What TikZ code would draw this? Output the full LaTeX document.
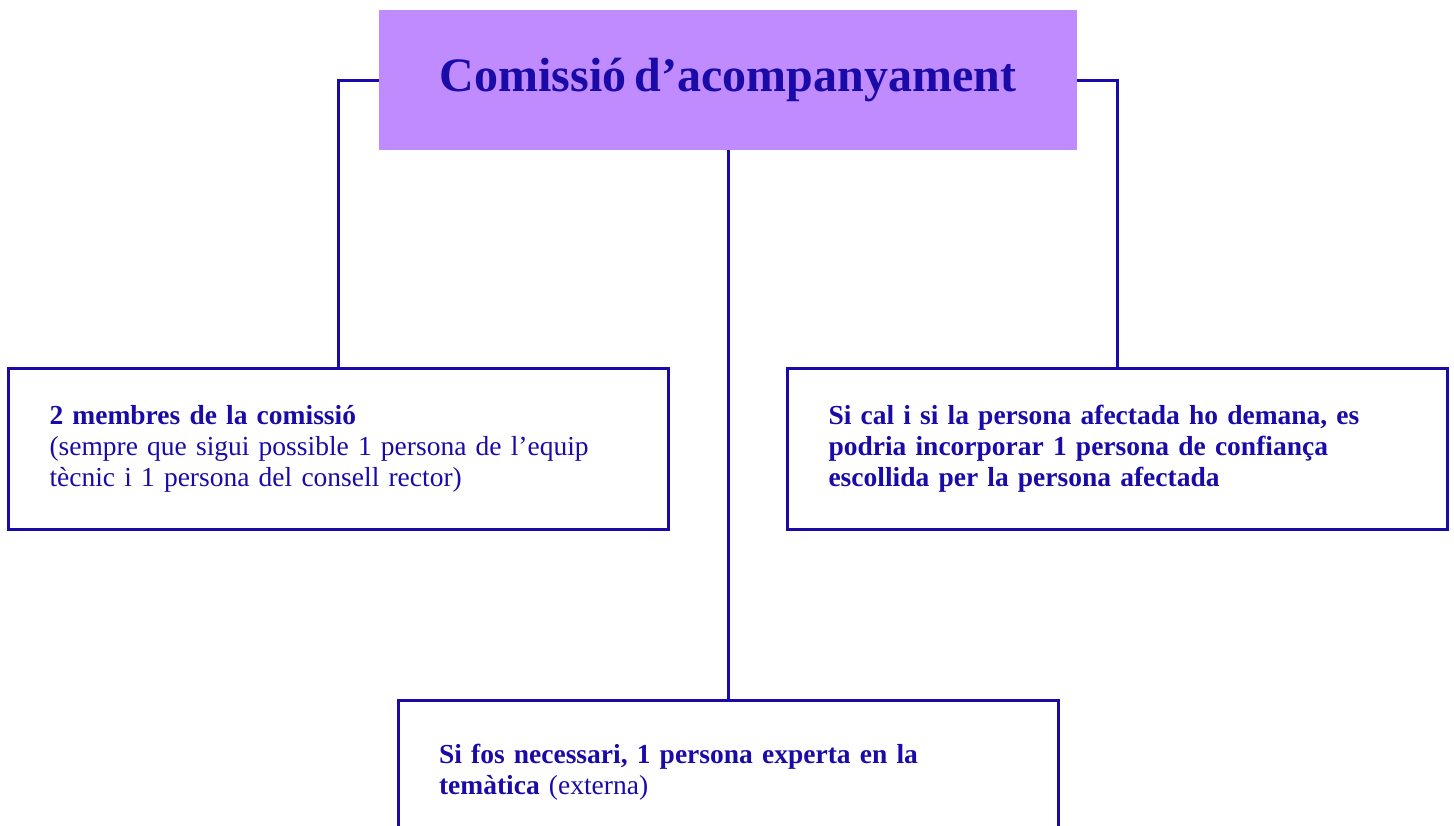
\documentclass[tikz,border=0pt]{standalone}
\usepackage{fontspec}
\setmainfont[WordSpace=0.7]{Liberation Serif}
\usetikzlibrary{positioning}
\definecolor{lila}{HTML}{BF8BFF}
\definecolor{blau}{HTML}{1A0BA8}
\tikzset{
  titol/.style={fill=lila, minimum width=698pt, minimum height=140pt, text=blau,
    font=\fontsize{48}{52}\selectfont\bfseries},
  caixa/.style={draw=blau, line width=3pt, text width=578pt, inner xsep=41pt,
    minimum height=161pt, align=left, text=blau, font=\fontsize{27.5}{31}\selectfont},
  linia/.style={draw=blau, line width=3pt}
}

\begin{document}
\begin{tikzpicture}[x=1pt,y=-1pt]
	\useasboundingbox (0,0) rectangle (1454,825);

	\node[titol] (comissio) at (728,80) {Comissió d’acompanyament};

	\node[caixa] (membres) at (338.5,448.5)
		{\textbf{2 membres de la comissió}\\(sempre que sigui possible 1 persona de l’equip\\tècnic i 1 persona del consell rector)};
	\node[caixa] (confianca) at (1117.5,448.5)
		{\textbf{Si cal i si la persona afectada ho demana, es\\podria incorporar 1 persona de confiança\\escollida per la persona afectada}};
	\node[caixa, minimum height=144pt] (experta) at (728,772)
		{\textbf{Si fos necessari, 1 persona experta en la\\temàtica} (externa)};

	\draw[linia] (comissio.west) -| (membres.north);
	\draw[linia] (comissio.east) -| (confianca.north);
	\draw[linia] (comissio.south) -- (experta.north);
\end{tikzpicture}
\end{document}
